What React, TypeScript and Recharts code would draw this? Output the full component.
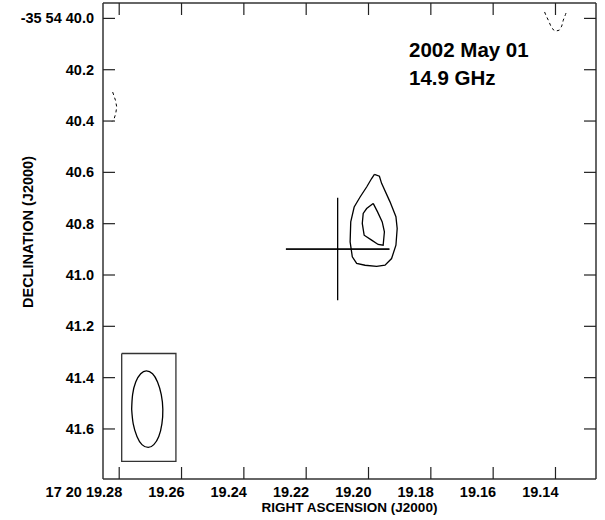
import React from 'react';
import { LineChart, Line, XAxis, YAxis } from 'recharts';

// axis ticks (RA seconds of 17h20m, Dec arcsec of -35d54m)
const raTicks = [19.28, 19.26, 19.24, 19.22, 19.2, 19.18, 19.16, 19.14];
const raTickLabels = ['17 20 19.28', '19.26', '19.24', '19.22', '19.20', '19.18', '19.16', '19.14'];
const decTicks = [40.0, 40.2, 40.4, 40.6, 40.8, 41.0, 41.2, 41.4, 41.6];
const decTickLabels = ['-35 54 40.0', '40.2', '40.4', '40.6', '40.8', '41.0', '41.2', '41.4', '41.6'];

const raDomain = [19.127, 19.2852];
const decDomain = [39.94, 41.795];

// positive contours
const outerContour = [
  { ra: 19.1981, dec: 40.608 }, { ra: 19.1965, dec: 40.615 }, { ra: 19.1958, dec: 40.643 },
  { ra: 19.1931, dec: 40.715 }, { ra: 19.1912, dec: 40.773 }, { ra: 19.1908, dec: 40.819 },
  { ra: 19.1912, dec: 40.884 }, { ra: 19.1926, dec: 40.936 }, { ra: 19.1947, dec: 40.962 },
  { ra: 19.1974, dec: 40.966 }, { ra: 19.2011, dec: 40.962 }, { ra: 19.2038, dec: 40.955 },
  { ra: 19.2052, dec: 40.929 }, { ra: 19.2059, dec: 40.871 }, { ra: 19.2057, dec: 40.793 },
  { ra: 19.2046, dec: 40.735 }, { ra: 19.2027, dec: 40.696 }, { ra: 19.2006, dec: 40.657 },
  { ra: 19.199, dec: 40.624 }, { ra: 19.1981, dec: 40.608 },
];

const innerContour = [
  { ra: 19.1985, dec: 40.721 }, { ra: 19.1971, dec: 40.754 }, { ra: 19.1956, dec: 40.793 },
  { ra: 19.1949, dec: 40.832 }, { ra: 19.1953, dec: 40.884 }, { ra: 19.1969, dec: 40.881 },
  { ra: 19.199, dec: 40.864 }, { ra: 19.2014, dec: 40.845 }, { ra: 19.202, dec: 40.799 },
  { ra: 19.2017, dec: 40.76 }, { ra: 19.2006, dec: 40.741 }, { ra: 19.1985, dec: 40.721 },
];

// negative (dashed) contours
const negLeft = [
  { ra: 19.2821, dec: 40.287 }, { ra: 19.2812, dec: 40.319 }, { ra: 19.2808, dec: 40.345 },
  { ra: 19.2811, dec: 40.37 }, { ra: 19.2817, dec: 40.394 }, { ra: 19.2823, dec: 40.402 },
];

const negTopRight = [
  { ra: 19.1435, dec: 39.975 }, { ra: 19.143, dec: 39.99 }, { ra: 19.1423, dec: 40.007 },
  { ra: 19.1412, dec: 40.038 }, { ra: 19.1401, dec: 40.05 }, { ra: 19.1388, dec: 40.046 },
  { ra: 19.138, dec: 40.03 }, { ra: 19.1375, dec: 40.007 }, { ra: 19.1368, dec: 39.985 },
  { ra: 19.1364, dec: 39.972 },
];

// position cross
const crossH = [{ ra: 19.2265, dec: 40.899 }, { ra: 19.1933, dec: 40.899 }];
const crossV = [{ ra: 19.2099, dec: 40.699 }, { ra: 19.2099, dec: 41.098 }];

// beam
const beamBox = [
  { ra: 19.2792, dec: 41.306 }, { ra: 19.2618, dec: 41.306 }, { ra: 19.2618, dec: 41.726 },
  { ra: 19.2792, dec: 41.726 }, { ra: 19.2792, dec: 41.306 },
];

const beamEllipse = [
  { ra: 19.276, dec: 41.523 }, { ra: 19.2755, dec: 41.58 }, { ra: 19.2743, dec: 41.629 },
  { ra: 19.2727, dec: 41.661 }, { ra: 19.2707, dec: 41.672 }, { ra: 19.2689, dec: 41.661 },
  { ra: 19.2673, dec: 41.629 }, { ra: 19.2663, dec: 41.58 }, { ra: 19.266, dec: 41.523 },
  { ra: 19.2665, dec: 41.466 }, { ra: 19.2677, dec: 41.417 }, { ra: 19.2693, dec: 41.385 },
  { ra: 19.2713, dec: 41.374 }, { ra: 19.2731, dec: 41.385 }, { ra: 19.2747, dec: 41.417 },
  { ra: 19.2757, dec: 41.466 }, { ra: 19.276, dec: 41.523 },
];

const FONT = '"Liberation Sans", Arial, Helvetica, sans-serif';
const TICK_LEN = 12;

function raLabel(v: number) {
  const i = raTicks.findIndex((t) => Math.abs(t - v) < 1e-6);
  return i >= 0 ? raTickLabels[i] : String(v);
}

function decLabel(v: number) {
  const i = decTicks.findIndex((t) => Math.abs(t - v) < 1e-6);
  return i >= 0 ? decTickLabels[i] : String(v);
}

// ticks point inwards, labels sit outside the frame
function BottomTick({ x, y, payload }: any) {
  return (
    <g>
      <line x1={x} x2={x} y1={y} y2={y - TICK_LEN} stroke="#222" strokeWidth={1.2} />
      <text x={x + 3} y={y + 18} textAnchor="end" fontFamily={FONT} fontWeight="bold" fontSize={14.5} fill="#000">
        {raLabel(payload.value)}
      </text>
    </g>
  );
}

function TopTick({ x, y }: any) {
  return <line x1={x} x2={x} y1={y} y2={y + TICK_LEN} stroke="#222" strokeWidth={1.2} />;
}

function LeftTick({ x, y, payload }: any) {
  return (
    <g>
      <line x1={x} x2={x + TICK_LEN} y1={y} y2={y} stroke="#222" strokeWidth={1.2} />
      <text x={x - 9} y={y + 5} textAnchor="end" fontFamily={FONT} fontWeight="bold" fontSize={14.5} fill="#000">
        {decLabel(payload.value)}
      </text>
    </g>
  );
}

function RightTick({ x, y }: any) {
  return <line x1={x} x2={x - TICK_LEN} y1={y} y2={y} stroke="#222" strokeWidth={1.2} />;
}

const lineProps = {
  type: 'linear' as const,
  dataKey: 'dec',
  stroke: '#000',
  strokeWidth: 1.3,
  dot: false,
  activeDot: false,
  isAnimationActive: false,
};

export default function App() {
  return (
    <div style={{ position: 'absolute', left: 0, top: 0, width: 605, height: 520, background: '#fff' }}>
      <LineChart width={605} height={520} margin={{ top: 2, right: 8, bottom: 0, left: 0 }}>
        <XAxis
          dataKey="ra"
          type="number"
          domain={raDomain}
          reversed
          allowDataOverflow
          ticks={raTicks}
          interval={0}
          height={41}
          tickSize={0}
          tickMargin={0}
          tickLine={false}
          axisLine={{ stroke: '#333', strokeWidth: 1.5 }}
          tick={<BottomTick />}
        />
        <XAxis
          xAxisId="top"
          dataKey="ra"
          orientation="top"
          type="number"
          domain={raDomain}
          reversed
          allowDataOverflow
          ticks={raTicks}
          interval={0}
          height={1}
          tickSize={0}
          tickMargin={0}
          tickLine={false}
          axisLine={{ stroke: '#333', strokeWidth: 1.5 }}
          tick={<TopTick />}
        />
        <YAxis
          type="number"
          domain={decDomain}
          reversed
          allowDataOverflow
          ticks={decTicks}
          interval={0}
          width={103}
          tickSize={0}
          tickMargin={0}
          tickLine={false}
          axisLine={{ stroke: '#333', strokeWidth: 1.5 }}
          tick={<LeftTick />}
        />
        <YAxis
          yAxisId="right"
          orientation="right"
          type="number"
          domain={decDomain}
          reversed
          allowDataOverflow
          ticks={decTicks}
          interval={0}
          width={1}
          tickSize={0}
          tickMargin={0}
          tickLine={false}
          axisLine={{ stroke: '#333', strokeWidth: 1.5 }}
          tick={<RightTick />}
        />

        <Line {...lineProps} data={outerContour} />
        <Line {...lineProps} data={innerContour} />
        <Line {...lineProps} data={negLeft} strokeDasharray="3 3" strokeWidth={1} />
        <Line {...lineProps} data={negTopRight} strokeDasharray="3 3" strokeWidth={1} />
        <Line {...lineProps} data={crossH} />
        <Line {...lineProps} data={crossV} />
        <Line {...lineProps} data={beamBox} stroke="#333" />
        <Line {...lineProps} data={beamEllipse} type="natural" />
        {/* same cross on the mirrored axes so the top/right frame has a series */}
        <Line {...lineProps} data={crossH} xAxisId="top" yAxisId="right" />
      </LineChart>

      <svg width={605} height={520} style={{ position: 'absolute', left: 0, top: 0, pointerEvents: 'none' }}>
        <text x={409} y={57} fontFamily={FONT} fontWeight="bold" fontSize={20.5} fill="#000">2002 May 01</text>
        <text x={409} y={85} fontFamily={FONT} fontWeight="bold" fontSize={20.5} fill="#000">14.9 GHz</text>
        <text x={349.5} y={511.5} textAnchor="middle" fontFamily={FONT} fontWeight="bold" fontSize={13.5} fill="#000">
          RIGHT ASCENSION (J2000)
        </text>
        <text
          x={27.5}
          y={232}
          textAnchor="middle"
          dominantBaseline="central"
          transform="rotate(-90 27.5 232)"
          fontFamily={FONT}
          fontWeight="bold"
          fontSize={14.5}
          fill="#000"
        >
          DECLINATION (J2000)
        </text>
      </svg>
    </div>
  );
}
